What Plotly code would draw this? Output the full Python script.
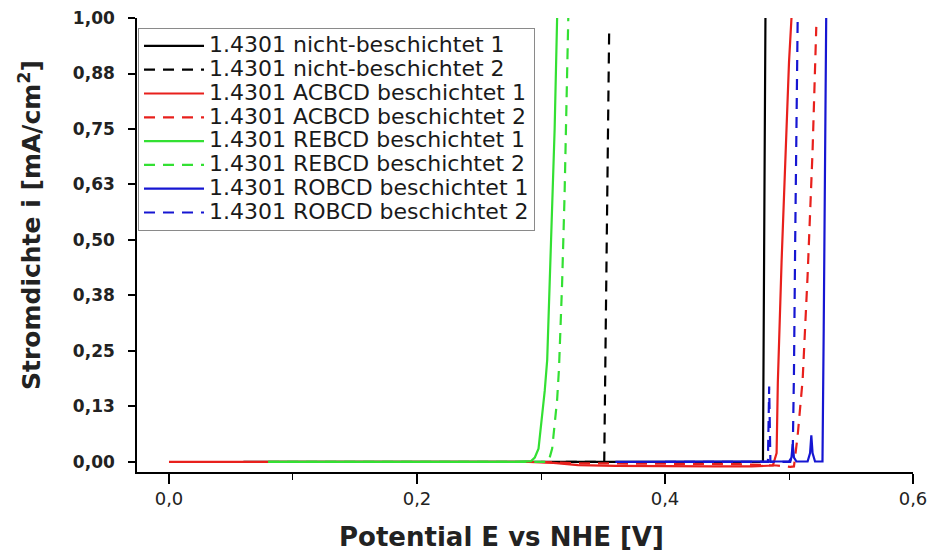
import plotly.graph_objects as go

# ---- data (Potential E [V], current density i [mA/cm²]) ----
ns1_x = [0.06, 0.10, 0.20, 0.30, 0.33, 0.36, 0.40, 0.45, 0.479, 0.4795, 0.480, 0.4805, 0.481]
ns1_y = [0.0, 0.0, 0.0, 0.0, 0.0, 0.0, 0.0, 0.0, 0.0, 0.25, 0.55, 0.8, 1.0]

ns2_x = [0.32, 0.335, 0.345, 0.351, 0.352, 0.353, 0.354, 0.355]
ns2_y = [0.0, 0.0, 0.0, 0.0, 0.25, 0.5, 0.75, 0.98]

ac1_x = [0.0, 0.10, 0.20, 0.29, 0.31, 0.33, 0.36, 0.40, 0.44, 0.47, 0.487, 0.490, 0.491, 0.494, 0.497, 0.500, 0.502]
ac1_y = [0.0, 0.0, 0.0, 0.0, -0.002, -0.007, -0.009, -0.010, -0.010, -0.010, -0.008, 0.02, 0.18, 0.45, 0.70, 0.90, 1.0]

ac2_x = [0.30, 0.33, 0.40, 0.46, 0.49, 0.501, 0.504, 0.507, 0.511, 0.515, 0.519, 0.522]
ac2_y = [0.0, -0.003, -0.004, -0.005, -0.008, -0.011, -0.010, 0.06, 0.185, 0.42, 0.70, 0.98]

re1_x = [0.08, 0.15, 0.22, 0.28, 0.292, 0.295, 0.298, 0.300, 0.303, 0.305, 0.308, 0.311, 0.313]
re1_y = [0.0, 0.0, 0.0, 0.0, 0.002, 0.01, 0.03, 0.08, 0.16, 0.23, 0.50, 0.75, 1.0]

re2_x = [0.08, 0.15, 0.22, 0.29, 0.306, 0.309, 0.311, 0.313, 0.3145, 0.317, 0.319, 0.321, 0.322]
re2_y = [0.0, 0.0, 0.0, 0.0, 0.0, 0.03, 0.08, 0.14, 0.21, 0.40, 0.60, 0.85, 1.0]

ro1_x = [0.36, 0.40, 0.45, 0.48, 0.500, 0.502, 0.503, 0.504, 0.506, 0.515, 0.517, 0.518, 0.519, 0.521, 0.527, 0.528, 0.529, 0.530]
ro1_y = [0.0, 0.001, 0.001, 0.001, 0.001, 0.01, 0.04, 0.01, 0.001, 0.001, 0.02, 0.06, 0.02, 0.001, 0.001, 0.30, 0.70, 1.0]

ro2_x = [0.40, 0.45, 0.481, 0.483, 0.484, 0.485, 0.487, 0.495, 0.501, 0.503, 0.504, 0.505, 0.506, 0.507]
ro2_y = [0.0, 0.0, 0.0, 0.0, 0.17, 0.0, 0.0, 0.0, 0.0, 0.02, 0.20, 0.50, 0.80, 1.0]

names = [
    "1.4301 nicht-beschichtet 1",
    "1.4301 nicht-beschichtet 2",
    "1.4301 ACBCD beschichtet 1",
    "1.4301 ACBCD beschichtet 2",
    "1.4301 REBCD beschichtet 1",
    "1.4301 REBCD beschichtet 2",
    "1.4301 ROBCD beschichtet 1",
    "1.4301 ROBCD beschichtet 2",
]

y_tickvals = [0.0, 0.125, 0.25, 0.375, 0.5, 0.625, 0.75, 0.875, 1.0]
y_ticktext = ["0,00", "0,13", "0,25", "0,38", "0,50", "0,63", "0,75", "0,88", "1,00"]
x_tickvals = [0.0, 0.2, 0.4, 0.6]
x_ticktext = ["0,0", "0,2", "0,4", "0,6"]

BLACK = "#000000"
RED = "#e8201c"
GREEN = "#33e033"
BLUE = "#1616d2"
DASH = "11px,8px"

series = [
    (ns1_x, ns1_y, BLACK, "solid"),
    (ns2_x, ns2_y, BLACK, DASH),
    (ac1_x, ac1_y, RED, "solid"),
    (ac2_x, ac2_y, RED, DASH),
    (re1_x, re1_y, GREEN, "solid"),
    (re2_x, re2_y, GREEN, DASH),
    (ro1_x, ro1_y, BLUE, "solid"),
    (ro2_x, ro2_y, BLUE, DASH),
]

FONT = "DejaVu Sans"

fig = go.Figure()
for (xs, ys, col, dash), name in zip(series, names):
    fig.add_trace(go.Scatter(
        x=xs, y=ys, mode="lines",
        name='<span style="font-size:22px">' + name + '</span>',
        line=dict(color=col, width=2.2, dash=dash),
    ))

fig.update_layout(
    width=932, height=553,
    margin=dict(l=137, r=19, t=18, b=81, autoexpand=False),
    paper_bgcolor="white", plot_bgcolor="white",
    font=dict(family=FONT, color="black"),
    showlegend=True,
    legend=dict(
        x=0.0013, y=0.978, xanchor="left", yanchor="top",
        bgcolor="white", bordercolor="#8a8a8a", borderwidth=1,
        font=dict(family=FONT, size=16, color="#1a1a1a"),
        itemwidth=60, tracegroupgap=0,
    ),
    xaxis=dict(
        range=[-0.0258, 0.6], showgrid=False, zeroline=False, automargin=False,
        showline=True, linecolor="black", linewidth=1.6,
        ticks="outside", ticklen=10, tickwidth=1.6, tickcolor="black",
        tickvals=x_tickvals, ticktext=x_ticktext,
        tickfont=dict(family=FONT, size=18, color="#222222"),
        minor=dict(ticks="outside", ticklen=6, tickwidth=1.4, tickcolor="black", dtick=0.1, tick0=0.0),
    ),
    yaxis=dict(
        range=[-0.0226, 1.0], showgrid=False, zeroline=False, automargin=False,
        showline=True, linecolor="black", linewidth=1.6,
        ticks="outside", ticklen=7, tickwidth=1.6, tickcolor="black",
        ticklabelstandoff=10,
        tickvals=y_tickvals, ticktext=y_ticktext,
        tickfont=dict(family=FONT, size=17, color="#222222", weight="bold"),
    ),
    annotations=[
        dict(text="Stromdichte i [mA/cm<sup>2</sup>]", xref="paper", yref="paper",
             x=-0.1379, y=0.544, xanchor="center", yanchor="middle", textangle=-90,
             showarrow=False, font=dict(family=FONT, size=25, color="#222222", weight="bold")),
        dict(text="Potential E vs NHE [V]", xref="paper", yref="paper",
             x=0.470, y=-0.143, xanchor="center", yanchor="middle",
             showarrow=False, font=dict(family=FONT, size=26, color="#222222", weight="bold")),
    ],
)

fig.write_html("out.html")
